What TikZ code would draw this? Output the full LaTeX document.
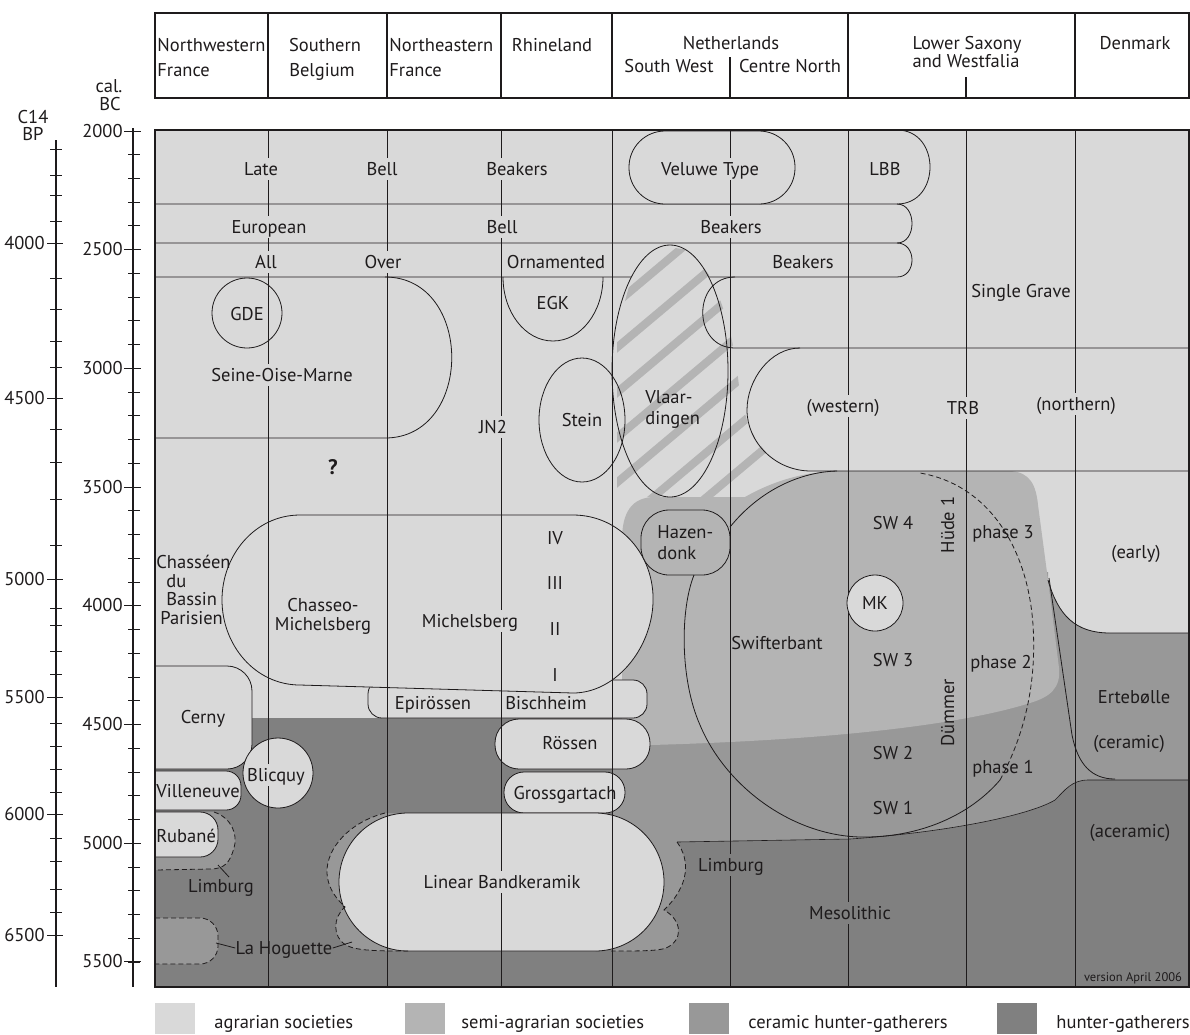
\documentclass[tikz,border=0pt]{standalone}
\usepackage{fontspec}
\setmainfont{PT Sans}
\definecolor{agr}{HTML}{D9D9D9}
\definecolor{semi}{HTML}{B4B4B4}
\definecolor{cer}{HTML}{989898}
\definecolor{hg}{HTML}{808080}
\definecolor{ink}{HTML}{1E1B1C}
\newcommand{\lblfont}{\fontsize{18.5}{20}\selectfont}
\newcommand{\legfont}{\fontsize{18.5}{20}\selectfont}
\begin{document}
\begin{tikzpicture}[x=1pt,y=-1pt,line width=0.8pt,color=ink,
  lbl/.style={font=\lblfont, inner sep=0pt, text height=12pt, text depth=0pt},
  gapA/.style={lbl, fill=agr, inner xsep=2pt, inner ysep=5pt},
  gapD/.style={lbl, fill=hg, inner xsep=2pt, inner ysep=5pt},
  outl/.style={draw=ink, line width=0.8pt},
  box/.style={draw=ink, fill=agr, line width=0.8pt},
  dashline/.style={draw=ink, dashed, dash pattern=on 5pt off 3pt, line width=0.8pt},
  frame/.style={draw=ink, line width=1.6pt},
  grid/.style={draw=ink, line width=0.8pt}]
\useasboundingbox (0,0) rectangle (1190,1034);

% ---------------- header ----------------
\draw[frame, line width=1.4pt] (155,13) rectangle (1189,98);
\foreach \xx in {268,387,501,612,848,1075} \draw[line width=1.2pt] (\xx,13) -- (\xx,98);
\draw[line width=1.2pt] (730,57) -- (730,98);
\draw[line width=1.2pt] (966,77) -- (966,98);
\node[lbl, anchor=west] (hnw1) at (157,45) {Northwestern};
\node[lbl, anchor=west] (hnw2) at (157,70) {France};
\node[lbl] (hsb1) at (325,45) {Southern};
\node[lbl] (hsb2) at (322,70) {Belgium};
\node[lbl, anchor=west] (hne1) at (389,45) {Northeastern};
\node[lbl, anchor=west] (hne2) at (389,70) {France};
\node[lbl] (hrh) at (552,45) {Rhineland};
\node[lbl] (hnl) at (731,43) {Netherlands};
\node[lbl] (hsw) at (669,66) {South West};
\node[lbl] (hcn) at (790,66) {Centre North};
\node[lbl] (hls1) at (967,43) {Lower Saxony};
\node[lbl] (hls2) at (966,61) {and Westfalia};
\node[lbl] (hdk) at (1135,43) {Denmark};

% ---------------- axes ----------------
\node[lbl] (calt) at (109,86) {cal.};
\node[lbl] (bct) at (110,104) {BC};
\node[lbl] (c14t) at (33,117) {C14};
\node[lbl] (bpt) at (33,134) {BP};
\draw[line width=1.2pt] (133,128) -- (133,987);
\foreach \i in {0,...,35} \draw[line width=1pt] (128,{131+\i*23.743}) -- (140,{131+\i*23.743});
\foreach \v [count=\k from 0] in {2000,2500,3000,3500,4000,4500,5000,5500} {
  \draw[line width=1pt] (124,{131+\k*118.71}) -- (141,{131+\k*118.71});
  \node[lbl, anchor=east] (cal\v) at (123,{131+\k*118.71}) {\v};
}
\draw[line width=1.2pt] (56,140) -- (56,987);
\foreach \yy in {149,175,195,221,278,309,341,367,429,462,499,545,608,625,651,674,723,746,769,792,838,861,889,912}
  \draw[line width=1pt] (50,\yy) -- (62,\yy);
\foreach \v/\yy in {4000/243,4500/398,5000/579,5500/697,6000/814,6500/935} {
  \draw[line width=1pt] (47,\yy) -- (63,\yy);
  \node[lbl, anchor=east] (bp\v) at (45,\yy) {\v};
}

% ---------------- background regions ----------------
\fill[agr] (155,130) rectangle (1189,987);
\fill[cer] (612,700) -- (1048,572) -- (1048,580) .. controls (1058,615) and (1075,633) .. (1110,633) -- (1190,633) -- (1190,780) -- (1088,780) .. controls (1072,780) and (1065,790) .. (1055,800) .. controls (1030,815) and (950,832) .. (850,839) -- (677,842) -- (612,842) -- cycle;
\fill[hg] (155,718) -- (612,718) -- (612,842) -- (677,842) -- (850,839) .. controls (950,832) and (1030,815) .. (1055,800) .. controls (1065,790) and (1072,780) .. (1088,780) -- (1189,780) -- (1189,987) -- (155,987) -- cycle;
% ceramic bulges
\fill[cer] (677,842) .. controls (690,860) and (690,885) .. (664,910) .. controls (682,920) and (684,940) .. (666,948) .. controls (658,951) and (640,951) .. (611,951) -- (611,842) -- cycle;
\fill[cer] (385,813) .. controls (350,822) and (326,848) .. (327,873) .. controls (328,890) and (338,900) .. (345,907) .. controls (333,917) and (332,937) .. (346,945) .. controls (356,951) and (380,951) .. (408,951) -- (408,813) -- cycle;
\fill[cer] (155,812) -- (214,812) .. controls (232,818) and (238,835) .. (234,848) .. controls (230,862) and (225,869) .. (210,869) -- (155,870) -- cycle;
\fill[cer, rounded corners=18] (155,918) -- (218,918) -- (218,964) -- (155,964);
% semi-agrarian
\fill[semi] (622,540) .. controls (622,512) and (632,497) .. (655,497) -- (745,497) .. controls (775,480) and (805,472) .. (837,471) -- (1010,471) .. controls (1030,472) and (1036,485) .. (1038,505) -- (1048,580) -- (1059,668) .. controls (1061,688) and (1050,697) .. (1030,703) .. controls (960,725) and (830,740) .. (651,745) -- (622,745) -- cycle;

% ---------------- upper rows ----------------
\draw[outl] (155,204) -- (897,204) .. controls (941,204) and (941,130) .. (897,130);
\draw[outl] (897,204) .. controls (917,204) and (917,243) .. (897,243) -- (155,243);
\draw[outl] (897,243) .. controls (917,243) and (917,277) .. (897,277) -- (155,277);
\draw[box, rounded corners=36] (629,131) rectangle (795,204);

% Vlaardingen with hatching
\fill[agr] (670,371) ellipse [x radius=58pt, y radius=126pt];
\begin{scope}
  \clip (617,497) -- (617,330) -- (630,283) -- (660,246) -- (690,250) -- (713,280) -- (728,322) -- (736,360) -- (740,395) -- (750,432) -- (768,455) -- (778,497) -- cycle;
  \foreach \c in {300,345,390,435,480,525,570}
    \draw[semi, line width=8pt] (600,{\c+16.8}) -- (790,{\c-142.8});
\end{scope}
\draw[outl] (670,371) ellipse [x radius=58pt, y radius=126pt];
\draw[outl] (582,420) ellipse [x radius=43pt, y radius=62pt];

% Seine-Oise-Marne, GDE, EGK
\draw[outl] (385,277) .. controls (474,277) and (474,438) .. (385,438) -- (155,438);
\draw[outl] (247,313) circle [radius=35pt];
\draw[outl] (603,277) .. controls (603,312) and (581,341) .. (553,341) .. controls (525,341) and (503,312) .. (503,277);
% Single Grave, TRB
\draw[outl] (735,277) .. controls (692,277) and (692,348) .. (735,348) -- (1189,348);
\draw[outl] (800,348) .. controls (770,348) and (747,380) .. (747,410) .. controls (747,442) and (775,471) .. (811,471) -- (1189,471);

% Epiroessen / Bischheim and Chasseo-Michelsberg
\draw[box, rounded corners=14] (368,680) rectangle (647,718);
\draw[box] (300,515) -- (573,515) .. controls (620,515) and (655,555) .. (653,603) .. controls (651,650) and (615,693) .. (573,693) -- (300,685) .. controls (255,685) and (222,645) .. (222,600) .. controls (222,555) and (255,515) .. (300,515) -- cycle;

% left column boxes
\draw[box, rounded corners=25] (155,666) -- (252,666) -- (252,769) -- (155,769);
\draw[box, rounded corners=15] (155,771) -- (241,771) -- (241,810) -- (155,810);
\draw[box, rounded corners=18] (155,812) -- (218,812) -- (218,857) -- (155,857);
\draw[box] (278,773) circle [radius=35pt];
\draw[box, rounded corners=24] (495,719) rectangle (650,769);
\draw[box, rounded corners=20] (504,772) rectangle (625,813);
\draw[box, rounded corners=69] (339,813) rectangle (664,951);

% dashed ceramic outlines
\draw[dashline] (677,842) .. controls (690,860) and (690,885) .. (664,910) .. controls (682,920) and (684,940) .. (666,948) .. controls (658,951) and (640,951) .. (611,951);
\draw[dashline] (385,813) .. controls (350,822) and (326,848) .. (327,873) .. controls (328,890) and (338,900) .. (345,907) .. controls (333,917) and (332,937) .. (346,945) .. controls (356,951) and (380,951) .. (408,951);
\draw[dashline] (214,812) .. controls (232,818) and (238,835) .. (234,848) .. controls (230,862) and (225,869) .. (210,869) -- (155,870);
\draw[dashline, rounded corners=18] (155,918) -- (218,918) -- (218,964) -- (155,964);

% Hazendonk, Swifterbant, Duemmer
\draw[outl, fill=semi, rounded corners=28] (641,510) rectangle (730,575);
\draw[outl] (730,527) .. controls (760,490) and (800,472) .. (837,471);
\draw[outl] (694,575) .. controls (680,610) and (680,680) .. (700,725) .. controls (725,785) and (790,835) .. (860,837) .. controls (920,838) and (970,815) .. (1000,780);
\draw[dashline] (1000,780) .. controls (1030,725) and (1036,670) .. (1033,625) .. controls (1028,550) and (990,485) .. (920,473);

% right side boundaries
\draw[outl] (1048,580) .. controls (1058,615) and (1075,633) .. (1110,633) -- (1189,633);
\draw[outl] (1049,578) -- (1072,735) .. controls (1078,765) and (1092,779) .. (1115,779);
\draw[outl, line width=0.6pt] (677,842) -- (850,839) .. controls (950,832) and (1030,815) .. (1055,800) .. controls (1065,790) and (1072,780) .. (1088,780) -- (1189,780);

% ---------------- grid lines ----------------
\foreach \xx in {268,387,501,612,730,848,966,1075} \draw[grid] (\xx,130) -- (\xx,987);
\draw[frame] (155,130) rectangle (1189,987);

% MK
\draw[box] (875,603) circle [radius=28pt];

% ---------------- labels ----------------
\node[gapA] (late) at (261,169) {Late};
\node[gapA] (bell1) at (382,169) {Bell};
\node[gapA] (beak1) at (517,169) {Beakers};
\node[gapA] (veluwe) at (710,169) {Veluwe Type};
\node[lbl] (lbb) at (885,169) {LBB};
\node[gapA] (europ) at (269,227) {European};
\node[gapA] (bell2) at (502,227) {Bell};
\node[gapA] (beak2) at (731,227) {Beakers};
\node[gapA] (allo) at (266,262) {All};
\node[gapA] (over) at (383,262) {Over};
\node[lbl] (orn) at (556,262) {Ornamented};
\node[lbl] (beak3) at (803,262) {Beakers};
\node[lbl] (sgrave) at (1021,291) {Single Grave};
\node[gapA] (western) at (843,406) {(western)};
\node[gapA] (trb) at (963,408) {TRB};
\node[gapA] (northern) at (1076,404) {(northern)};
\node[lbl] (gde) at (247,314) {GDE};
\node[gapA] (som) at (282,375) {Seine-Oise-Marne};
\node[lbl] (egk) at (553,303) {EGK};
\node[lbl] (stein) at (582,420) {Stein};
\node[gapA] (jn2) at (493,427) {JN2};
\node[lbl, font=\fontsize{21}{23}\selectfont\bfseries] (qm) at (333,468) {?};
\node[lbl, anchor=west] (vl1) at (645,397) {Vlaar-};
\node[lbl, anchor=west] (vl2) at (645,418) {dingen};
\node[lbl, anchor=west] (hz1) at (657,532) {Hazen-};
\node[lbl, anchor=west] (hz2) at (657,553) {donk};
\node[lbl] (r4) at (555,538) {IV};
\node[lbl] (r3) at (555,583) {III};
\node[lbl] (r2) at (555,629) {II};
\node[lbl] (r1) at (555,675) {I};
\node[lbl] (cm1) at (323,605) {Chasseo-};
\node[lbl] (cm2) at (323,624) {Michelsberg};
\node[gapA] (mich) at (470,621) {Michelsberg};
\node[lbl, anchor=west] (ch1) at (156,562) {Chasséen};
\node[lbl, anchor=west] (ch2) at (166,581) {du};
\node[lbl, anchor=west] (ch3) at (166,599) {Bassin};
\node[lbl, anchor=west] (ch4) at (160,618) {Parisien};
\node[lbl] (epi) at (433,703) {Epirössen};
\node[lbl] (bisch) at (546,703) {Bischheim};
\node[lbl] (cerny) at (203,717) {Cerny};
\node[lbl, anchor=west] (vill) at (156,791) {Villeneuve};
\node[lbl, anchor=west] (rub) at (156,836) {Rubané};
\node[gapA, inner xsep=0.5pt] (blic) at (276,775) {Blicquy};
\node[lbl] (roes) at (570,743) {Rössen};
\node[lbl] (gross) at (565,793) {Grossgartach};
\node[gapA] (lbk) at (502,882) {Linear Bandkeramik};
\node[lbl] (limb1) at (221,886) {Limburg};
\node[lbl] (lahog) at (284,948) {La Hoguette};
\draw[outl] (218,865) -- (229,877);
\draw[outl] (216,943) -- (lahog.west);
\draw[outl] (lahog.east) -- (352,942);
\node[gapD] (limb2) at (731,865) {Limburg};
\node[gapD] (meso) at (850,913) {Mesolithic};
\node[lbl] (acer) at (1130,831) {(aceramic)};
\node[lbl, font=\fontsize{12.5}{14}\selectfont, text height=8pt] (vers) at (1133,977) {version April 2006};
\node[lbl] (swift) at (777,643) {Swifterbant};
\node[lbl] (sw4) at (893,523) {SW 4};
\node[lbl] (sw3) at (893,660) {SW 3};
\node[lbl] (sw2) at (893,753) {SW 2};
\node[lbl] (sw1) at (893,808) {SW 1};
\node[lbl] (mk) at (875,603) {MK};
\node[lbl, rotate=90] (hude) at (948,525) {Hüde 1};
\node[lbl, rotate=90] (dumm) at (948,713) {Dümmer};
\node[lbl] (ph3) at (1003,532) {phase 3};
\node[lbl] (ph2) at (1001,662) {phase 2};
\node[lbl] (ph1) at (1003,767) {phase 1};
\node[lbl] (early) at (1136,552) {(early)};
\node[lbl] (ertb) at (1134,697) {Ertebølle};
\node[lbl] (ceram) at (1129,742) {(ceramic)};

% ---------------- legend ----------------
\fill[agr] (155,1003) rectangle (195,1034);
\fill[semi] (405,1003) rectangle (445,1034);
\fill[cer] (689,1003) rectangle (729,1034);
\fill[hg] (997,1003) rectangle (1037,1034);
\node[lbl, font=\legfont, anchor=west] (lg1) at (214,1022) {agrarian societies};
\node[lbl, font=\legfont, anchor=west] (lg2) at (461,1022) {semi-agrarian societies};
\node[lbl, font=\legfont, anchor=west] (lg3) at (748,1022) {ceramic hunter-gatherers};
\node[lbl, font=\legfont, anchor=west] (lg4) at (1056,1022) {hunter-gatherers};
\end{tikzpicture}
\end{document}
